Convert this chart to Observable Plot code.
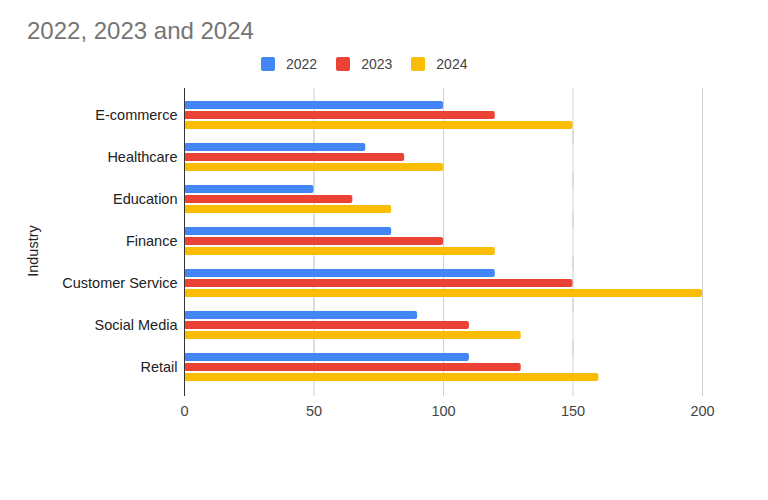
<!DOCTYPE html>
<html>
<head>
<meta charset="utf-8">
<script src="https://cdn.jsdelivr.net/npm/d3@7"></script>
<script src="https://cdn.jsdelivr.net/npm/@observablehq/plot@0.6"></script>
<style>
  body { margin: 0; background: #fff; font-family: Arial, "Liberation Sans", sans-serif; }
  #wrap { position: relative; width: 768px; height: 500px; }
  #title { position: absolute; left: 27px; top: 17px; font-size: 24px; color: #757575; }
  #legend { position: absolute; left: 261px; top: 56px; display: flex; font-size: 14px; color: #444; }
  .item { display: flex; align-items: center; margin-right: 19px; }
  .sw { width: 14px; height: 14px; border-radius: 2px; margin-right: 11px; }
  #chart { position: absolute; left: 0; top: 81px; }
  #ylabel { position: absolute; left: 33px; top: 251px; transform: translate(-50%, -50%) rotate(-90deg); font-size: 14.5px; color: #222; white-space: nowrap; }
</style>
</head>
<body>
<div id="wrap">
  <div id="title">2022, 2023 and 2024</div>
  <div id="legend"></div>
  <div id="chart"></div>
  <div id="ylabel">Industry</div>
</div>
<script>
const industries = ["E-commerce", "Healthcare", "Education", "Finance", "Customer Service", "Social Media", "Retail"];
const years = ["2022", "2023", "2024"];
const colors = ["#4285F4", "#EA4335", "#FBBC04"];
const values2022 = [100, 70, 50, 80, 120, 90, 110];
const values2023 = [120, 85, 65, 100, 150, 110, 130];
const values2024 = [150, 100, 80, 120, 200, 130, 160];
const xTicks = [0, 50, 100, 150, 200];

const series = [values2022, values2023, values2024];
const data = [];
industries.forEach((ind, i) => {
  years.forEach((yr, j) => data.push({industry: ind, year: yr, value: series[j][i]}));
});

const legend = document.getElementById("legend");
years.forEach((yr, j) => {
  const it = document.createElement("div");
  it.className = "item";
  it.innerHTML = `<span class="sw" style="background:${colors[j]}"></span><span>${yr}</span>`;
  legend.appendChild(it);
});

const chart = Plot.plot({
  width: 768,
  height: 360,
  marginLeft: 184,
  marginRight: 66,
  marginTop: 5,
  marginBottom: 45,
  style: {fontFamily: "Arial, 'Liberation Sans', sans-serif", fontSize: "14.5px", color: "#222"},
  x: {domain: [0, 200], ticks: xTicks},
  y: {domain: years, paddingInner: 0.2, paddingOuter: 0, axis: null},
  fy: {domain: industries, paddingInner: 0.34, paddingOuter: 0.34},
  color: {domain: years, range: colors},
  marks: [
    Plot.ruleX(xTicks.slice(1), {stroke: "#d0d0d0", strokeWidth: 1, insetTop: -13, insetBottom: -15}),
    Plot.barX(data, {fy: "industry", y: "year", x: "value", fill: "year", rx: 2}),
    Plot.ruleX([0], {stroke: "#333", strokeWidth: 1, insetTop: -13, insetBottom: -15}),
    Plot.axisX({ticks: xTicks, tickSize: 0, tickPadding: 24, label: null, fontSize: 14.5, color: "#444"}),
    Plot.axisFy({anchor: "left", tickSize: 0, tickPadding: 7, label: null, fontSize: 14.5})
  ]
});
document.getElementById("chart").appendChild(chart);
</script>
</body>
</html>
